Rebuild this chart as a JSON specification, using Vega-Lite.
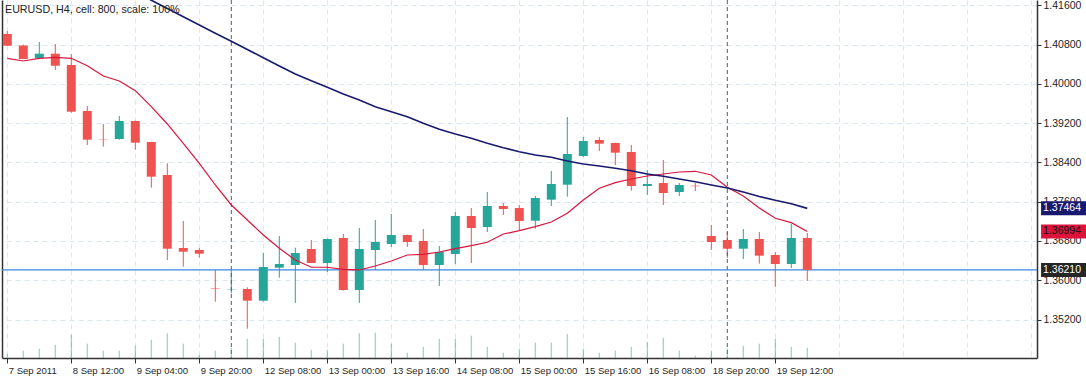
{
  "$schema": "https://vega.github.io/schema/vega-lite/v6.json",
  "width": 1035,
  "height": 358,
  "autosize": {"type": "none"},
  "padding": {"left": 2, "top": 0, "right": 49, "bottom": 24},
  "background": "white",
  "config": {
    "view": {"stroke": null},
    "font": "Liberation Sans",
    "scale": {"continuousPadding": 0},
    "axis": {"labelFont": "Liberation Sans", "labelFontSize": 10.5, "labelColor": "#1e1e1e", "titleFont": "Liberation Sans"}
  },
  "title": {
    "text": "EURUSD, H4, cell: 800, scale: 100%",
    "anchor": "start",
    "frame": "group",
    "orient": "top",
    "offset": -16,
    "dx": 3,
    "font": "Liberation Sans",
    "fontSize": 10.7,
    "fontWeight": "normal",
    "color": "#222222"
  },
  "datasets": {
    "bars": [
      {"i":0,"o":1.41014,"h":1.41075,"l":1.4077,"c":1.40776,"v":172,"m1":1.40519},
      {"i":1,"o":1.40779,"h":1.408,"l":1.405,"c":1.40505,"v":292,"m1":1.40464},
      {"i":2,"o":1.40525,"h":1.40851,"l":1.4052,"c":1.40613,"v":372,"m1":1.40519},
      {"i":3,"o":1.40613,"h":1.4081,"l":1.40281,"c":1.40368,"v":532,"m1":1.40539},
      {"i":4,"o":1.40383,"h":1.40605,"l":1.39412,"c":1.39432,"v":932,"m1":1.40519},
      {"i":5,"o":1.39446,"h":1.39548,"l":1.38754,"c":1.38862,"v":572,"m1":1.40368},
      {"i":6,"o":1.38872,"h":1.39182,"l":1.3872,"c":1.38866,"v":292,"m1":1.40159},
      {"i":7,"o":1.38876,"h":1.39344,"l":1.38862,"c":1.39243,"v":292,"m1":1.40057},
      {"i":8,"o":1.39243,"h":1.3925,"l":1.38659,"c":1.38801,"v":492,"m1":1.3986,"m2":1.41869},
      {"i":9,"o":1.38815,"h":1.3882,"l":1.37885,"c":1.38109,"v":732,"m1":1.39534,"m2":1.41702},
      {"i":10,"o":1.38143,"h":1.38382,"l":1.36413,"c":1.36643,"v":988,"m1":1.39182,"m2":1.41533},
      {"i":11,"o":1.36657,"h":1.37207,"l":1.36277,"c":1.36582,"v":572,"m1":1.38789,"m2":1.41364},
      {"i":12,"o":1.36617,"h":1.36657,"l":1.3646,"c":1.36541,"v":120,"m1":1.38382,"m2":1.41197},
      {"i":13,"o":1.35835,"h":1.3621,"l":1.35564,"c":1.35825,"v":292,"m1":1.3794,"m2":1.41028},
      {"i":14,"o":1.35815,"h":1.3621,"l":1.35735,"c":1.35822,"v":412,"m1":1.37533,"m2":1.40867},
      {"i":15,"o":1.35823,"h":1.35857,"l":1.35015,"c":1.35585,"v":772,"m1":1.37227,"m2":1.40698},
      {"i":16,"o":1.35585,"h":1.36556,"l":1.35564,"c":1.36271,"v":772,"m1":1.36922,"m2":1.40531},
      {"i":17,"o":1.36256,"h":1.36902,"l":1.36053,"c":1.36332,"v":852,"m1":1.36651,"m2":1.40362},
      {"i":18,"o":1.36311,"h":1.36664,"l":1.35538,"c":1.36556,"v":612,"m1":1.36413,"m2":1.402},
      {"i":19,"o":1.36637,"h":1.3682,"l":1.36352,"c":1.36352,"v":332,"m1":1.36265,"m2":1.40063},
      {"i":20,"o":1.36352,"h":1.3685,"l":1.36169,"c":1.36841,"v":332,"m1":1.36265,"m2":1.39929},
      {"i":21,"o":1.36861,"h":1.36943,"l":1.3579,"c":1.35803,"v":572,"m1":1.36224,"m2":1.39792},
      {"i":22,"o":1.35803,"h":1.37065,"l":1.35538,"c":1.36637,"v":988,"m1":1.3621,"m2":1.3967},
      {"i":23,"o":1.36617,"h":1.37227,"l":1.3621,"c":1.3678,"v":1012,"m1":1.36291,"m2":1.39534},
      {"i":24,"o":1.36739,"h":1.3735,"l":1.36678,"c":1.36922,"v":572,"m1":1.36393,"m2":1.39432},
      {"i":25,"o":1.36922,"h":1.3693,"l":1.36678,"c":1.3678,"v":212,"m1":1.36515,"m2":1.3933},
      {"i":26,"o":1.368,"h":1.37044,"l":1.3621,"c":1.36311,"v":452,"m1":1.36529,"m2":1.39196},
      {"i":27,"o":1.36311,"h":1.36698,"l":1.35884,"c":1.36576,"v":772,"m1":1.36576,"m2":1.39074},
      {"i":28,"o":1.36535,"h":1.3739,"l":1.36332,"c":1.37309,"v":772,"m1":1.36643,"m2":1.38978},
      {"i":29,"o":1.37309,"h":1.37472,"l":1.36352,"c":1.37065,"v":892,"m1":1.36704,"m2":1.38891},
      {"i":30,"o":1.37085,"h":1.37797,"l":1.36983,"c":1.37512,"v":452,"m1":1.36774,"m2":1.38789},
      {"i":31,"o":1.37512,"h":1.37573,"l":1.37329,"c":1.37451,"v":212,"m1":1.36942,"m2":1.38699},
      {"i":32,"o":1.37471,"h":1.37532,"l":1.37024,"c":1.37207,"v":372,"m1":1.3701,"m2":1.38618},
      {"i":33,"o":1.37213,"h":1.37716,"l":1.3705,"c":1.37675,"v":612,"m1":1.37091,"m2":1.38551},
      {"i":34,"o":1.37641,"h":1.38225,"l":1.37512,"c":1.3796,"v":612,"m1":1.37187,"m2":1.38504},
      {"i":35,"o":1.37946,"h":1.39324,"l":1.37702,"c":1.38571,"v":972,"m1":1.37364,"m2":1.38428},
      {"i":36,"o":1.3853,"h":1.38917,"l":1.3851,"c":1.38836,"v":372,"m1":1.37635,"m2":1.38367},
      {"i":37,"o":1.38856,"h":1.38917,"l":1.38632,"c":1.38781,"v":212,"m1":1.37873,"m2":1.38327},
      {"i":38,"o":1.38795,"h":1.388,"l":1.38347,"c":1.38598,"v":292,"m1":1.37987,"m2":1.3828},
      {"i":39,"o":1.38612,"h":1.38754,"l":1.37824,"c":1.3792,"v":452,"m1":1.38062,"m2":1.38231},
      {"i":40,"o":1.3792,"h":1.38245,"l":1.37736,"c":1.3796,"v":652,"m1":1.38123,"m2":1.38164},
      {"i":41,"o":1.3798,"h":1.38449,"l":1.37533,"c":1.37777,"v":812,"m1":1.38164,"m2":1.38117},
      {"i":42,"o":1.37797,"h":1.37981,"l":1.37716,"c":1.3794,"v":292,"m1":1.38205,"m2":1.38062},
      {"i":43,"o":1.37925,"h":1.37981,"l":1.37818,"c":1.37915,"v":92,"m1":1.38219,"m2":1.38007},
      {"i":44,"o":1.36902,"h":1.37126,"l":1.36617,"c":1.3678,"v":292,"m1":1.38144,"m2":1.3794},
      {"i":45,"o":1.3682,"h":1.36983,"l":1.36454,"c":1.36643,"v":372,"m1":1.37893,"m2":1.37879},
      {"i":46,"o":1.36643,"h":1.37044,"l":1.36434,"c":1.36841,"v":492,"m1":1.37716,"m2":1.37797},
      {"i":47,"o":1.36841,"h":1.36983,"l":1.36338,"c":1.36501,"v":572,"m1":1.37472,"m2":1.37706},
      {"i":48,"o":1.36515,"h":1.36576,"l":1.35864,"c":1.36332,"v":772,"m1":1.37262,"m2":1.37628},
      {"i":49,"o":1.36332,"h":1.37146,"l":1.3625,"c":1.36861,"v":452,"m1":1.37173,"m2":1.37559},
      {"i":50,"o":1.36861,"h":1.36963,"l":1.35986,"c":1.3621,"v":412,"m1":1.36994,"m2":1.37464}
    ],
    "tags": [
      {"kind": "ma50", "v": 1.37464},
      {"kind": "ma14", "v": 1.36994},
      {"kind": "bid", "v": 1.3621}
    ],
    "seps": [{"i": 14}, {"i": 45}]
  },
  "resolve": {"scale": {"y": "independent"}},
  "layer": [
    {
      "layer": [
        {
          "data": {"name": "bars"},
          "mark": {"type": "rule", "strokeWidth": 1},
          "encoding": {
            "x": {
              "field": "i", "type": "quantitative",
              "scale": {"domain": [-0.331, 64.356], "nice": false, "zero": false, "padding": 0},
              "axis": {
                "orient": "bottom",
                "title": null,
                "values": [0,2,4,6,8,10,12,14,16,18,20,22,24,26,28,30,32,34,36,38,40,42,44,46,48,50,52,54,56,58,60,62,64],
                "labelExpr": "datum.value % 4 === 0 && datum.value <= 48 ? ['7 Sep 2011','8 Sep 12:00','9 Sep 04:00','9 Sep 20:00','12 Sep 08:00','13 Sep 00:00','13 Sep 16:00','14 Sep 08:00','15 Sep 00:00','15 Sep 16:00','16 Sep 08:00','18 Sep 20:00','19 Sep 12:00'][datum.value / 4] : ''",
                "labelFontSize": 9.5,
                "labelAlign": "left",
                "labelBaseline": "top",
                "labelOffset": 1,
                "labelPadding": 2,
                "labelBound": false,
                "labelFlush": false,
                "labelOverlap": false,
                "tickSize": 5,
                "tickColor": "#333333",
                "tickOpacity": {"condition": {"test": "datum.value % 4 === 0 && datum.value <= 48", "value": 1}, "value": 0},
                "domain": true,
                "domainColor": "#333333",
                "domainWidth": 1.5,
                "grid": true,
                "gridColor": "#e0e5ea",
                "gridDash": [5, 4],
                "gridWidth": 1
              }
            },
            "y": {
              "field": "l", "type": "quantitative",
              "scale": {"domain": [1.34418, 1.41706], "nice": false, "zero": false, "padding": 0},
              "axis": {
                "orient": "right",
                "title": null,
                "values": [1.352, 1.36, 1.368, 1.376, 1.384, 1.392, 1.4, 1.408, 1.416],
                "format": ".5f",
                "labelAlign": "left",
                "labelBaseline": "middle",
                "labelPadding": 2,
                "labelBound": false,
                "labelFlush": false,
                "labelOverlap": false,
                "tickSize": 4,
                "tickColor": "#333333",
                "domain": true,
                "domainColor": "#333333",
                "domainWidth": 1.5,
                "grid": true,
                "gridColor": "#dce6ee",
                "gridDash": [5, 4],
                "gridWidth": 1
              }
            },
            "y2": {"field": "h"},
            "color": {"condition": {"test": "datum.c >= datum.o", "value": "#26a69a"}, "value": "#ef5350"}
          }
        },
        {
          "data": {"name": "seps"},
          "mark": {"type": "rule", "color": "#5a5a5a", "strokeDash": [4, 3], "strokeWidth": 1},
          "encoding": {
            "x": {"field": "i", "type": "quantitative", "scale": {"domain": [-0.331, 64.356], "nice": false, "zero": false, "padding": 0}}
          }
        },
        {
          "data": {"name": "tags"},
          "transform": [{"filter": "datum.kind === 'bid'"}],
          "mark": {"type": "rule", "color": "#3d85e0", "strokeWidth": 1.2},
          "encoding": {
            "y": {"field": "v", "type": "quantitative", "scale": {"domain": [1.34418, 1.41706], "nice": false, "zero": false, "padding": 0}}
          }
        },
        {
          "data": {"name": "bars"},
          "mark": {"type": "bar", "width": 9},
          "encoding": {
            "x": {"field": "i", "type": "quantitative", "scale": {"domain": [-0.331, 64.356], "nice": false, "zero": false, "padding": 0}},
            "y": {"field": "o", "type": "quantitative", "scale": {"domain": [1.34418, 1.41706], "nice": false, "zero": false, "padding": 0}},
            "y2": {"field": "c"},
            "color": {"condition": {"test": "datum.c >= datum.o", "value": "#26a69a"}, "value": "#ef5350"}
          }
        },
        {
          "data": {"name": "bars"},
          "mark": {"type": "line", "color": "#dc143c", "strokeWidth": 1.2, "clip": true},
          "encoding": {
            "x": {"field": "i", "type": "quantitative", "scale": {"domain": [-0.331, 64.356], "nice": false, "zero": false, "padding": 0}},
            "y": {"field": "m1", "type": "quantitative", "scale": {"domain": [1.34418, 1.41706], "nice": false, "zero": false, "padding": 0}}
          }
        },
        {
          "data": {"name": "bars"},
          "mark": {"type": "line", "color": "#191970", "strokeWidth": 1.6, "clip": true},
          "encoding": {
            "x": {"field": "i", "type": "quantitative", "scale": {"domain": [-0.331, 64.356], "nice": false, "zero": false, "padding": 0}},
            "y": {"field": "m2", "type": "quantitative", "scale": {"domain": [1.34418, 1.41706], "nice": false, "zero": false, "padding": 0}}
          }
        },
        {
          "data": {"name": "tags"},
          "mark": {"type": "bar", "orient": "horizontal", "height": 14},
          "encoding": {
            "x": {"datum": 64.61, "type": "quantitative", "scale": {"domain": [-0.331, 64.356], "nice": false, "zero": false, "padding": 0}},
            "x2": {"datum": 67.5},
            "y": {"field": "v", "type": "quantitative", "scale": {"domain": [1.34418, 1.41706], "nice": false, "zero": false, "padding": 0}},
            "color": {"field": "kind", "type": "nominal", "scale": {"domain": ["ma50", "ma14", "bid"], "range": ["#191970", "#dc143c", "#262626"]}, "legend": null}
          }
        },
        {
          "data": {"name": "tags"},
          "mark": {"type": "text", "align": "left", "baseline": "middle", "dx": 2, "fontSize": 10.5, "font": "Liberation Sans"},
          "encoding": {
            "x": {"datum": 64.61, "type": "quantitative", "scale": {"domain": [-0.331, 64.356], "nice": false, "zero": false, "padding": 0}},
            "y": {"field": "v", "type": "quantitative", "scale": {"domain": [1.34418, 1.41706], "nice": false, "zero": false, "padding": 0}},
            "text": {"field": "v", "type": "quantitative", "format": ".5f"},
            "color": {"condition": {"test": "datum.kind === 'ma14'", "value": "#111111"}, "value": "#ffffff"}
          }
        }
      ]
    },
    {
      "data": {"name": "bars"},
      "mark": {"type": "rule", "color": "#26a69a", "opacity": 0.5, "strokeWidth": 1.2},
      "encoding": {
        "x": {"field": "i", "type": "quantitative", "scale": {"domain": [-0.331, 64.356], "nice": false, "zero": false, "padding": 0}},
        "y": {
          "field": "v", "type": "quantitative",
          "scale": {"domain": [0, 14320], "nice": false, "zero": true, "padding": 0},
          "axis": {"orient": "left", "title": null, "labels": false, "ticks": false, "grid": false, "domain": true, "domainColor": "#333333", "domainWidth": 1.5}
        },
        "y2": {"datum": 0}
      }
    }
  ]
}
